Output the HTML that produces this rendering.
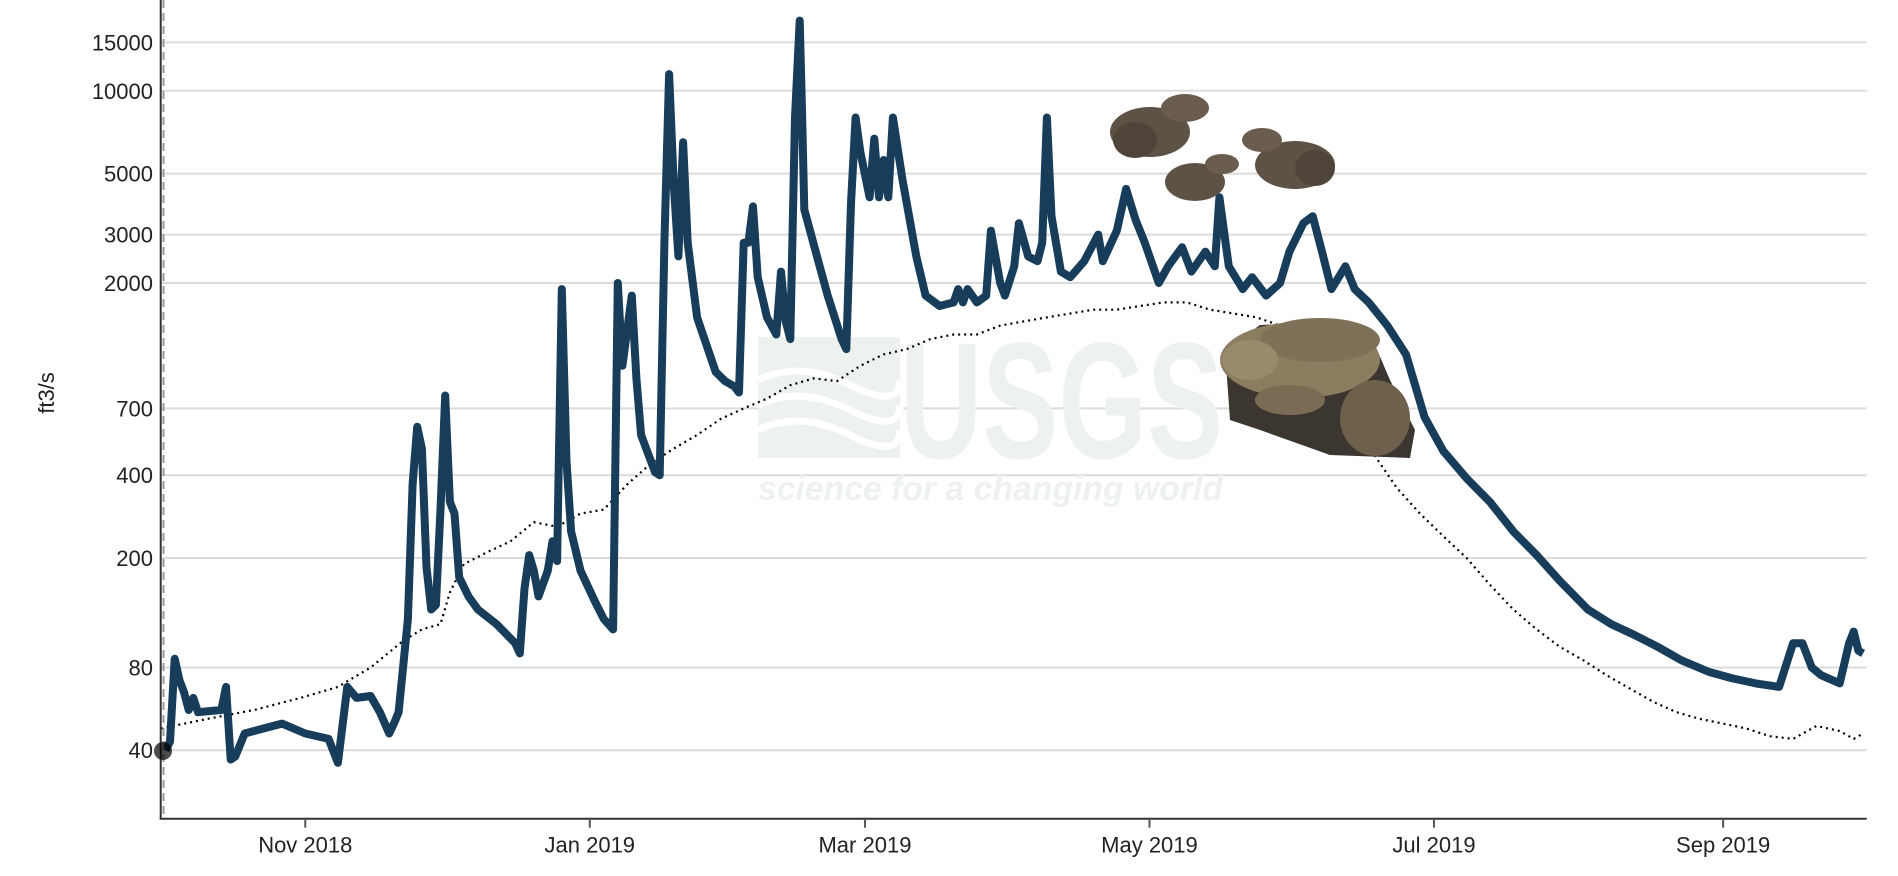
<!DOCTYPE html>
<html><head><meta charset="utf-8"><style>
html,body{margin:0;padding:0;background:#fff;}
svg{display:block;font-family:"Liberation Sans",Arial,sans-serif;}
</style></head>
<body>
<svg id="chart" width="1898" height="876" viewBox="0 0 1898 876" xmlns="http://www.w3.org/2000/svg">
<text x="300" y="-9" font-size="30" font-style="italic" fill="#173d5a">Daily flow by day of year</text>
<g id="grid"></g>
<g id="watermark">
  <rect x="758" y="337" width="142" height="121" fill="#eef2ef"/>
  <path d="M758 380 Q800 360 850 385 T900 380 M758 405 Q800 385 850 410 T900 405 M758 430 Q800 410 850 435 T900 430" stroke="#fff" stroke-width="7" fill="none"/>
  <text x="900" y="458" font-size="166" font-weight="bold" fill="#eef2ef" textLength="323" lengthAdjust="spacingAndGlyphs">USGS</text>
  <text x="758" y="500" font-size="34" font-weight="bold" font-style="italic" fill="#eef2ef" textLength="465" lengthAdjust="spacingAndGlyphs">science for a changing world</text>
</g>
<g id="series"></g>
<g id="frogs">
  <g>
    <ellipse cx="1150" cy="132" rx="40" ry="25" fill="#5e5246"/><ellipse cx="1185" cy="108" rx="24" ry="14" fill="#6a5d4f"/><ellipse cx="1135" cy="140" rx="22" ry="18" fill="#4e443a"/>
  </g>
  <g>
    <ellipse cx="1195" cy="182" rx="30" ry="19" fill="#5e5246"/><ellipse cx="1222" cy="164" rx="17" ry="10" fill="#6a5d4f"/>
  </g>
  <g>
    <ellipse cx="1295" cy="165" rx="40" ry="24" fill="#5e5246"/><ellipse cx="1262" cy="140" rx="20" ry="12" fill="#6a5d4f"/><ellipse cx="1315" cy="168" rx="20" ry="18" fill="#4e443a"/>
  </g>
  <g>
    <path d="M1225 350 L1260 325 L1330 322 L1375 345 L1390 380 L1415 430 L1410 458 L1330 455 L1260 430 L1230 420 Z" fill="#3c3630"/>
    <ellipse cx="1300" cy="360" rx="80" ry="38" fill="#8c7c60"/>
    <ellipse cx="1320" cy="340" rx="60" ry="22" fill="#7e7158"/>
    <ellipse cx="1375" cy="418" rx="35" ry="38" fill="#6e614c"/>
    <ellipse cx="1250" cy="360" rx="28" ry="20" fill="#9a8a6c"/>
    <ellipse cx="1290" cy="400" rx="35" ry="15" fill="#7a6c54"/>
  </g>
</g>
<g id="axes"></g>
<text x="0" y="0" font-size="22" fill="#222" text-anchor="middle" transform="translate(54,393) rotate(-90)">ft3/s</text>
<circle cx="163" cy="751" r="9" fill="rgba(0,0,0,0.7)"/>
</svg>
<script>
const yTicks = [15000, 10000, 5000, 3000, 2000, 700, 400, 200, 80, 40];
const xTickDays = [31, 92, 151, 212, 273, 335];
const xTickLabels = ["Nov 2018", "Jan 2019", "Mar 2019", "May 2019", "Jul 2019", "Sep 2019"];
const flowDays = [1,2,3,4,5,6,7,8,13,14,15,16,18,22,26,31,36,38,40,42,45,47,49,50,51,53,54,55,56,57,58,59,60,61,61.5,62,63,64,66,68,72,76,77,78,79,80,81,83,84,85,86,87,88,90,93,95,97,98,99,101,102,103,106,107,108,109,110,111,112,113,115,119,121,123,124,125,126,127,128,130,132,133,134,135,136,137,137.5,138,141,143,146,147,148,149,150,152,153,154,155,156,157,159,162,164,167,170,171,172,173,175,177,178,180,181,183,184,186,188,189,190,191,193,195,198,201,202,205,207,209,211,214,216,219,221,224,226,227,229,232,234,237,240,242,245,247,249,251,254,256,259,263,267,271,275,280,285,290,295,300,306,311,316,321,326,332,337,342,347,350,352,354,356,360,362,363,364,365];
const flowValues = [40,43,86,72,65,56,62,55,56,68,37,38,46,48,50,46,44,36,68,62,63,55,46,50,55,120,370,600,500,185,130,135,300,780,500,320,290,170,145,130,115,98,90,155,205,180,145,180,230,195,1900,450,250,180,140,120,110,2000,1000,1800,900,560,410,400,2800,11500,4600,2500,6500,2800,1500,950,880,840,800,2800,2800,3800,2100,1500,1300,2200,1450,1250,8000,18000,8500,3700,2400,1800,1250,1150,3900,8000,6000,4100,6700,4100,5600,4100,8000,4800,2500,1800,1650,1700,1900,1700,1900,1700,1800,3100,2000,1800,2300,3300,2500,2400,2800,8000,3500,2200,2100,2400,3000,2400,3100,4400,3400,2800,2000,2300,2700,2200,2600,2300,4100,2300,1900,2100,1800,2000,2600,3300,3500,2600,1900,2300,1900,1700,1400,1100,650,490,390,320,250,205,165,130,115,105,95,85,77,73,70,68,98,98,80,75,70,98,108,92,90];
const medianDays = [0,10,20,30,38,45,52,56,60,62,65,70,75,80,85,90,95,100,105,110,115,120,125,130,135,140,145,150,155,160,165,170,175,180,185,190,195,200,205,210,215,220,225,230,235,240,245,250,255,260,265,270,275,280,285,290,295,300,305,310,315,320,325,330,335,340,345,350,355,360,363,365];
const medianValues = [48,52,56,62,68,80,100,110,115,150,190,210,230,270,260,290,300,370,440,500,560,640,700,760,850,900,880,1000,1100,1150,1250,1300,1300,1400,1450,1500,1550,1600,1600,1650,1700,1700,1600,1550,1500,1400,1250,950,650,480,360,290,240,200,160,130,110,95,85,75,67,60,55,52,50,48,45,44,49,47,44,46];

const NS = "http://www.w3.org/2000/svg";
const X0 = 160.7, PXDAY = 4.664, YBOT = 818.7, XR = 1866.7;
function xScale(d){ return X0 + d * PXDAY; }
function yScale(v){ return 90.8 - (Math.log10(v) - 4) * 275; }
function mk(tag, attrs, parent){ const e = document.createElementNS(NS, tag); for (const k in attrs) e.setAttribute(k, attrs[k]); parent.appendChild(e); return e; }

const grid = document.getElementById('grid');
const axes = document.getElementById('axes');
yTicks.forEach(v => {
  const y = yScale(v);
  const gl = mk('line', {x1: X0, x2: XR, y1: y, y2: y, stroke: '#dcdcdc', 'stroke-width': 2}, grid);
  
  
  const t = mk('text', {x: 153, y: y + 8, 'font-size': 22, fill: '#222', 'text-anchor': 'end'}, axes);
  t.textContent = v;
  
  
});
const yAxis = mk('line', {x1: X0, x2: X0, y1: 0, y2: YBOT, stroke: '#333', 'stroke-width': 2}, axes);


const xAxis = mk('line', {x1: X0 - 1, x2: XR, y1: YBOT, y2: YBOT, stroke: '#333', 'stroke-width': 2}, axes);


const dash = mk('line', {x1: 163.5, x2: 163.5, y1: 0, y2: YBOT, stroke: '#999', 'stroke-width': 2, 'stroke-dasharray': '8,5'}, axes);


xTickDays.forEach((d, i) => {
  const x = xScale(d);
  const tk = mk('line', {x1: x, x2: x, y1: YBOT, y2: YBOT + 9, stroke: '#555', 'stroke-width': 2}, axes);
  
  
  const t = mk('text', {x: x, y: YBOT + 34, 'font-size': 22, fill: '#222', 'text-anchor': 'middle'}, axes);
  t.textContent = xTickLabels[i];
  
  
});

const series = document.getElementById('series');
const med = mk('path', {d: medianDays.map((d, i) => (i ? 'L' : 'M') + xScale(d).toFixed(1) + ' ' + yScale(medianValues[i]).toFixed(1)).join(' '), fill: 'none', stroke: '#000', 'stroke-width': 2.2, 'stroke-dasharray': '2,4'}, series);


const flow = mk('path', {d: flowDays.map((d, i) => (i ? 'L' : 'M') + xScale(d).toFixed(1) + ' ' + yScale(flowValues[i]).toFixed(1)).join(' '), fill: 'none', stroke: '#173d5a', 'stroke-width': 8, 'stroke-linejoin': 'round'}, series);


</script>
</body></html>
